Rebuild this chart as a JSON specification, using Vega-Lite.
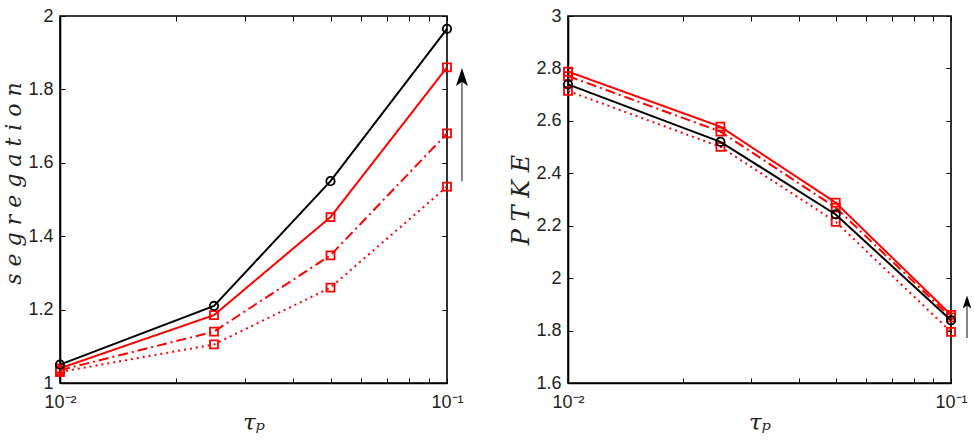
{
  "$schema": "https://vega.github.io/schema/vega-lite/v6.json",
  "padding": {"left": 2, "top": 6, "right": 2, "bottom": 2},
  "background": "white",
  "config": {
    "view": {"stroke": "black", "strokeWidth": 1.6},
    "axis": {
      "grid": false,
      "domainColor": "black",
      "domainWidth": 1.6,
      "tickColor": "black",
      "tickWidth": 1,
      "tickSize": -5,
      "labelFont": "Liberation Sans",
      "labelFontSize": 18,
      "labelColor": "#222",
      "labelFlush": false,
      "titleFont": "DejaVu Serif",
      "titleFontStyle": "italic",
      "titleFontWeight": "normal",
      "titleFontSize": 20,
      "titleColor": "#222"
    },
    "axisX": {"labelPadding": 15, "titlePadding": 0},
    "axisY": {"labelPadding": 12}
  },
  "datasets": {
    "pts": [
      {"panel": "seg", "tau": 0.01, "value": 1.04, "series": "r1"},
      {"panel": "seg", "tau": 0.025, "value": 1.185, "series": "r1"},
      {"panel": "seg", "tau": 0.05, "value": 1.452, "series": "r1"},
      {"panel": "seg", "tau": 0.1, "value": 1.86, "series": "r1"},
      {"panel": "seg", "tau": 0.01, "value": 1.035, "series": "r2"},
      {"panel": "seg", "tau": 0.025, "value": 1.14, "series": "r2"},
      {"panel": "seg", "tau": 0.05, "value": 1.348, "series": "r2"},
      {"panel": "seg", "tau": 0.1, "value": 1.68, "series": "r2"},
      {"panel": "seg", "tau": 0.01, "value": 1.03, "series": "r3"},
      {"panel": "seg", "tau": 0.025, "value": 1.105, "series": "r3"},
      {"panel": "seg", "tau": 0.05, "value": 1.26, "series": "r3"},
      {"panel": "seg", "tau": 0.1, "value": 1.535, "series": "r3"},
      {"panel": "seg", "tau": 0.01, "value": 1.05, "series": "black"},
      {"panel": "seg", "tau": 0.025, "value": 1.21, "series": "black"},
      {"panel": "seg", "tau": 0.05, "value": 1.55, "series": "black"},
      {"panel": "seg", "tau": 0.1, "value": 1.965, "series": "black"},
      {"panel": "ptke", "tau": 0.01, "value": 2.788, "series": "r1"},
      {"panel": "ptke", "tau": 0.025, "value": 2.578, "series": "r1"},
      {"panel": "ptke", "tau": 0.05, "value": 2.288, "series": "r1"},
      {"panel": "ptke", "tau": 0.1, "value": 1.86, "series": "r1"},
      {"panel": "ptke", "tau": 0.01, "value": 2.771, "series": "r2"},
      {"panel": "ptke", "tau": 0.025, "value": 2.559, "series": "r2"},
      {"panel": "ptke", "tau": 0.05, "value": 2.269, "series": "r2"},
      {"panel": "ptke", "tau": 0.1, "value": 1.85, "series": "r2"},
      {"panel": "ptke", "tau": 0.01, "value": 2.714, "series": "r3"},
      {"panel": "ptke", "tau": 0.025, "value": 2.501, "series": "r3"},
      {"panel": "ptke", "tau": 0.05, "value": 2.215, "series": "r3"},
      {"panel": "ptke", "tau": 0.1, "value": 1.795, "series": "r3"},
      {"panel": "ptke", "tau": 0.01, "value": 2.739, "series": "black"},
      {"panel": "ptke", "tau": 0.025, "value": 2.52, "series": "black"},
      {"panel": "ptke", "tau": 0.05, "value": 2.243, "series": "black"},
      {"panel": "ptke", "tau": 0.1, "value": 1.839, "series": "black"}
    ],
    "arrows": [
      {"panel": "seg", "tau": 0.1093, "y1": 1.55, "y2": 1.834},
      {"panel": "ptke", "tau": 0.1101, "y1": 1.772, "y2": 1.909}
    ]
  },
  "spacing": 40,
  "hconcat": [
    {
      "width": 387,
      "height": 367,
      "resolve": {"axis": {"x": "independent", "y": "independent"}},
      "layer": [
        {
          "data": {"name": "pts"},
          "transform": [{"filter": "datum.panel === 'seg' && datum.series !== 'black'"}],
          "mark": {"type": "line", "color": "#ff0000", "strokeWidth": 2},
          "encoding": {
            "x": {"field": "tau", "type": "quantitative", "scale": {"type": "log", "domain": [0.01, 0.1]},
                  "axis": {"values": [0.01,0.02,0.03,0.04,0.05,0.06,0.07,0.08,0.09,0.1], "labelExpr": "abs(datum.value-0.01)<1e-6 ? '10⁻²' : (abs(datum.value-0.1)<1e-6 ? '10⁻¹' : '')", "title": "τₚ", "titleFontSize": 23}},
            "y": {"field": "value", "type": "quantitative", "scale": {"domain": [1, 2]},
                  "axis": {"values": [1,1.2,1.4,1.6,1.8,2], "format": "~g", "title": "s e g r e g a t i o n", "titleFontSize": 22, "titlePadding": 2, "titleY": 167}},
            "detail": {"field": "series"},
            "strokeDash": {"field": "series", "type": "nominal", "legend": null,
                           "scale": {"domain": ["r1","r2","r3"], "range": [[1,0],[10,4,2,4],[2,4]]}}
          }
        },
        {
          "data": {"name": "pts"},
          "transform": [{"filter": "datum.panel === 'seg' && datum.series !== 'black'"}],
          "mark": {"type": "point", "shape": "square", "filled": false, "color": "#ff0000", "strokeWidth": 1.8, "size": 64, "opacity": 1},
          "encoding": {
            "x": {"field": "tau", "type": "quantitative", "axis": null},
            "y": {"field": "value", "type": "quantitative", "axis": null}
          }
        },
        {
          "data": {"name": "pts"},
          "transform": [{"filter": "datum.panel === 'seg' && datum.series === 'black'"}],
          "mark": {"type": "line", "color": "black", "strokeWidth": 2},
          "encoding": {
            "x": {"field": "tau", "type": "quantitative", "axis": null},
            "y": {"field": "value", "type": "quantitative", "axis": null}
          }
        },
        {
          "data": {"name": "pts"},
          "transform": [{"filter": "datum.panel === 'seg' && datum.series === 'black'"}],
          "mark": {"type": "point", "shape": "circle", "filled": false, "color": "black", "strokeWidth": 1.8, "size": 70, "opacity": 1},
          "encoding": {
            "x": {"field": "tau", "type": "quantitative",
                  "axis": {"orient": "top", "labels": false, "title": null, "domain": false, "values": [0.01,0.02,0.03,0.04,0.05,0.06,0.07,0.08,0.09,0.1]}},
            "y": {"field": "value", "type": "quantitative",
                  "axis": {"orient": "right", "labels": false, "title": null, "domain": false, "values": [1,1.2,1.4,1.6,1.8,2]}}
          }
        },
        {
          "data": {"name": "arrows"},
          "transform": [{"filter": "datum.panel === 'seg'"}],
          "mark": {"type": "rule", "color": "#444", "strokeWidth": 1.3},
          "encoding": {
            "x": {"field": "tau", "type": "quantitative", "axis": null},
            "y": {"field": "y1", "type": "quantitative", "axis": null},
            "y2": {"field": "y2"}
          }
        },
        {
          "data": {"name": "arrows"},
          "transform": [{"filter": "datum.panel === 'seg'"}],
          "mark": {"type": "point", "shape": "M0,-1L0.67,1L0,0.55L-0.67,1Z", "filled": true, "color": "black", "size": 324, "opacity": 1},
          "encoding": {
            "x": {"field": "tau", "type": "quantitative", "axis": null},
            "y": {"field": "y2", "type": "quantitative", "axis": null}
          }
        }
      ]
    },
    {
      "width": 383,
      "height": 367,
      "resolve": {"axis": {"x": "independent", "y": "independent"}},
      "layer": [
        {
          "data": {"name": "pts"},
          "transform": [{"filter": "datum.panel === 'ptke' && datum.series !== 'black'"}],
          "mark": {"type": "line", "color": "#ff0000", "strokeWidth": 2},
          "encoding": {
            "x": {"field": "tau", "type": "quantitative", "scale": {"type": "log", "domain": [0.01, 0.1]},
                  "axis": {"values": [0.01,0.02,0.03,0.04,0.05,0.06,0.07,0.08,0.09,0.1], "labelExpr": "abs(datum.value-0.01)<1e-6 ? '10⁻²' : (abs(datum.value-0.1)<1e-6 ? '10⁻¹' : '')", "title": "τₚ", "titleFontSize": 23}},
            "y": {"field": "value", "type": "quantitative", "scale": {"domain": [1.6, 3]},
                  "axis": {"values": [1.6,1.8,2,2.2,2.4,2.6,2.8,3], "format": "~g", "title": "P T K E", "titleFontSize": 24, "titlePadding": 2}},
            "detail": {"field": "series"},
            "strokeDash": {"field": "series", "type": "nominal", "legend": null,
                           "scale": {"domain": ["r1","r2","r3"], "range": [[1,0],[10,4,2,4],[2,4]]}}
          }
        },
        {
          "data": {"name": "pts"},
          "transform": [{"filter": "datum.panel === 'ptke' && datum.series !== 'black'"}],
          "mark": {"type": "point", "shape": "square", "filled": false, "color": "#ff0000", "strokeWidth": 1.8, "size": 64, "opacity": 1},
          "encoding": {
            "x": {"field": "tau", "type": "quantitative", "axis": null},
            "y": {"field": "value", "type": "quantitative", "axis": null}
          }
        },
        {
          "data": {"name": "pts"},
          "transform": [{"filter": "datum.panel === 'ptke' && datum.series === 'black'"}],
          "mark": {"type": "line", "color": "black", "strokeWidth": 2},
          "encoding": {
            "x": {"field": "tau", "type": "quantitative", "axis": null},
            "y": {"field": "value", "type": "quantitative", "axis": null}
          }
        },
        {
          "data": {"name": "pts"},
          "transform": [{"filter": "datum.panel === 'ptke' && datum.series === 'black'"}],
          "mark": {"type": "point", "shape": "circle", "filled": false, "color": "black", "strokeWidth": 1.8, "size": 70, "opacity": 1},
          "encoding": {
            "x": {"field": "tau", "type": "quantitative",
                  "axis": {"orient": "top", "labels": false, "title": null, "domain": false, "values": [0.01,0.02,0.03,0.04,0.05,0.06,0.07,0.08,0.09,0.1]}},
            "y": {"field": "value", "type": "quantitative",
                  "axis": {"orient": "right", "labels": false, "title": null, "domain": false, "values": [1.6,1.8,2,2.2,2.4,2.6,2.8,3]}}
          }
        },
        {
          "data": {"name": "arrows"},
          "transform": [{"filter": "datum.panel === 'ptke'"}],
          "mark": {"type": "rule", "color": "#444", "strokeWidth": 1.3},
          "encoding": {
            "x": {"field": "tau", "type": "quantitative", "axis": null},
            "y": {"field": "y1", "type": "quantitative", "axis": null},
            "y2": {"field": "y2"}
          }
        },
        {
          "data": {"name": "arrows"},
          "transform": [{"filter": "datum.panel === 'ptke'"}],
          "mark": {"type": "point", "shape": "M0,-1L0.67,1L0,0.55L-0.67,1Z", "filled": true, "color": "black", "size": 169, "opacity": 1},
          "encoding": {
            "x": {"field": "tau", "type": "quantitative", "axis": null},
            "y": {"field": "y2", "type": "quantitative", "axis": null}
          }
        }
      ]
    }
  ]
}
